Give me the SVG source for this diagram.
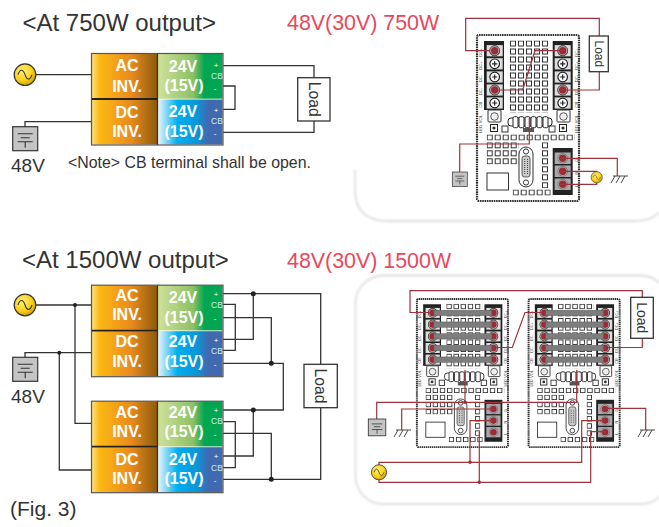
<svg xmlns="http://www.w3.org/2000/svg" width="659" height="527" viewBox="0 0 659 527">
<style>
text{font-family:"Liberation Sans",Arial,sans-serif;fill:#333}
.h{font-size:24px}.r{font-size:21.4px;fill:#e8485c}.v{font-size:19px}
.b{font-size:16px;font-weight:bold;fill:#fff;text-anchor:middle}
.p{font-size:8px;fill:#fff;text-anchor:middle}.c{font-size:8.5px;fill:#cdeee6;text-anchor:middle}
.w{fill:none;stroke:#333;stroke-width:1.3}
.e{fill:none;stroke:#9e333c;stroke-width:1.2}
.d{fill:#222}.rd{fill:#9e2a35}.box{fill:#fff;stroke:#333;stroke-width:1.3}
.t{font-size:4.2px;fill:#333;text-anchor:middle}
.sh{fill:none;stroke:#dedede;stroke-width:1.8;filter:url(#bl)}
</style>
<defs>
<filter id="bl"><feGaussianBlur stdDeviation="0.8"/></filter>
<linearGradient id="og"><stop offset="0" stop-color="#ffe07a"/><stop offset=".12" stop-color="#fdb813"/><stop offset=".6" stop-color="#e98a1e"/><stop offset="1" stop-color="#8a5a0c"/></linearGradient>
<linearGradient id="gr"><stop offset="0" stop-color="#cfe29c"/><stop offset=".55" stop-color="#8cc063"/><stop offset=".72" stop-color="#00a651"/><stop offset="1" stop-color="#00a651"/></linearGradient>
<linearGradient id="bu"><stop offset="0" stop-color="#e8f6fc"/><stop offset=".3" stop-color="#00aeef"/><stop offset=".6" stop-color="#0a96d8"/><stop offset=".78" stop-color="#4169b0"/><stop offset="1" stop-color="#4169b0"/></linearGradient>
<radialGradient id="yl" cx=".4" cy=".35" r=".7"><stop offset="0" stop-color="#fff176"/><stop offset=".6" stop-color="#fcd116"/><stop offset="1" stop-color="#c79a00"/></radialGradient>
<pattern id="gd" width="8" height="8" patternUnits="userSpaceOnUse"><rect x=".5" y=".5" width="5" height="5" fill="#fff" stroke="#333" stroke-width="1"/></pattern>
<g id="mod">
<rect x="0" y="0" width="132" height="46" fill="none"/>
<rect x=".7" y=".7" width="66" height="45" fill="url(#og)"/>
<rect x=".7" y="46.5" width="66" height="45" fill="url(#og)"/>
<rect x="67" y=".7" width="64.5" height="45" fill="url(#gr)"/>
<rect x="67" y="46.5" width="64.5" height="45" fill="url(#bu)"/>
<path d="M0 46h67" stroke="#222" stroke-width="1.8"/>
<path d="M66.5 0v92" stroke="#3a2a10" stroke-width="1.2"/>
<rect x=".5" y=".5" width="131.5" height="91.5" fill="none" stroke="#555" stroke-width="1.2"/>
</g>
<g id="ac"><circle r="10.8" fill="url(#yl)" stroke="#333" stroke-width="1.2"/><path d="M-7 0c2-6 5-6 7 0s5 6 7 0" fill="none" stroke="#333" stroke-width="1.1"/></g>
<g id="bat"><rect width="25" height="24" fill="#c4c4c4" stroke="#333" stroke-width="1.2"/><path d="M5 7h15M8 11h9M5 15h15M12.500 15v6" fill="none" stroke="#333" stroke-width="1.1"/></g>
<g id="gnd"><path d="M3 0h15M5 0l-4 7M10 0l-4 7M15 0l-4 7" fill="none" stroke="#333" stroke-width=".9"/></g>
<g id="scr"><rect x="-8" y="-5.6" width="16" height="11.2" fill="#ddd"/><circle r="4.8" fill="#fff" stroke="#222" stroke-width="1.2"/><path d="M-2.6 0h5.2M0-2.6v5.2" stroke="#222" stroke-width="1.2"/></g>
<g id="red"><circle r="4.8" fill="#bbb" stroke="#555" stroke-width=".6"/><circle r="3.7" class="rd"/></g>
<g id="board">
<rect x="1" y="1" width="102" height="166" rx="2" fill="#fff" stroke="#333" stroke-width="2.2" stroke-dasharray="1.6 .7"/>
<g transform="translate(34 6.500)"><rect width="40" height="72" fill="url(#gd)"/></g>
<rect x="8" y="7" width="20" height="69" class="d"/><rect x="76.7" y="7" width="20" height="69" class="d"/>
<use href="#scr" x="18.7" y="16.7"/><use href="#scr" x="18.7" y="29.8"/><use href="#scr" x="18.7" y="43"/><use href="#scr" x="18.7" y="56"/><use href="#scr" x="18.7" y="69"/>
<use href="#scr" x="86.7" y="16.7"/><use href="#scr" x="86.7" y="29.8"/><use href="#scr" x="86.7" y="43"/><use href="#scr" x="86.7" y="56"/><use href="#scr" x="86.7" y="69"/>
<rect x="12" y="76" width="13" height="12" rx="1" fill="#fff" stroke="#333"/><circle cx="18.5" cy="82.5" r="3.8" fill="#eee" stroke="#555"/>
<rect x="81" y="76" width="13" height="12" rx="1" fill="#fff" stroke="#333"/><circle cx="87.5" cy="82.5" r="3.8" fill="#eee" stroke="#555"/>
<rect x="14.5" y="90.5" width="7" height="7" fill="#fff" stroke="#222"/><circle cx="18" cy="94" r="1.6" fill="#333"/>
<rect x="83.5" y="90.5" width="7" height="7" fill="#fff" stroke="#222"/><circle cx="87" cy="94" r="1.6" fill="#333"/>
<rect x="26" y="92" width="6" height="6" fill="#fff" stroke="#333"/><rect x="73" y="92" width="6" height="6" fill="#fff" stroke="#333"/>
<rect x="32" y="84" width="44" height="8" rx="3" fill="#fff" stroke="#222"/>
<g fill="#fff" stroke="#222"><rect x="37" y="82.7" width="5" height="11" rx="1.5"/><rect x="43" y="82.7" width="5" height="11" rx="1.5"/><rect x="49" y="82.7" width="5" height="11" rx="1.5"/><rect x="55" y="82.7" width="5" height="11" rx="1.5"/><rect x="61" y="82.7" width="5" height="11" rx="1.5"/><rect x="67" y="82.7" width="5" height="11" rx="1.5"/></g>
<rect x="47" y="94" width="11" height="4" fill="#555"/>
<g transform="translate(10.700 100.500)"><rect width="88" height="6" fill="url(#gd)"/></g>
<g transform="translate(10.700 108.300)"><rect width="32" height="22" fill="url(#gd)"/></g>
<g transform="translate(66 108.300)"><rect width="6" height="46" fill="url(#gd)"/></g>
<g transform="translate(36.700 155.500)"><rect width="38" height="6" fill="url(#gd)"/></g>
<rect x="43" y="113" width="14" height="40" rx="7" fill="#fff" stroke="#333"/>
<rect x="46" y="122" width="8" height="21" rx="2.5" fill="#ccc" stroke="#333" stroke-width=".8"/>
<circle cx="50" cy="117.5" r="2.6" fill="#fff" stroke="#333"/><circle cx="50" cy="148.5" r="2.6" fill="#fff" stroke="#333"/>
<path d="M48.700 125v15M51.500 125v15" stroke="#444" stroke-width="1" stroke-dasharray="1 1"/>
<rect x="11" y="139" width="21.5" height="17" fill="#fff" stroke="#333"/>
<rect x="76.7" y="114" width="20" height="47" class="d"/>
<rect x="78.7" y="118.5" width="16" height="11.5" fill="#aaa"/><rect x="78.7" y="131.5" width="16" height="11.5" fill="#aaa"/><rect x="78.7" y="144.5" width="16" height="11.5" fill="#aaa"/>
<use href="#red" x="86.7" y="124.3"/><use href="#red" x="86.7" y="137.3"/><use href="#red" x="86.7" y="150.3"/>
<g class="t">
<text transform="translate(6 18.500) rotate(-90)">DC+</text><text transform="translate(6 31.500) rotate(-90)">DC+</text><text transform="translate(6 44.500) rotate(-90)">DC-</text><text transform="translate(6 57.500) rotate(-90)">DC-</text><text transform="translate(6 70.500) rotate(-90)">CB</text><text transform="translate(6 85) rotate(-90)">VOL</text><text transform="translate(6 95) rotate(-90)">LED</text>
<text transform="translate(101.500 18.500) rotate(-90)">DC+</text><text transform="translate(101.500 31.500) rotate(-90)">DC+</text><text transform="translate(101.500 44.500) rotate(-90)">DC-</text><text transform="translate(101.500 57.500) rotate(-90)">DC-</text><text transform="translate(101.500 70.500) rotate(-90)">CB</text><text transform="translate(101.500 85) rotate(-90)">VOL</text><text transform="translate(101.500 95) rotate(-90)">LED</text>
<text transform="translate(101.500 126) rotate(-90)">G</text><text transform="translate(101.500 139) rotate(-90)">N</text><text transform="translate(101.500 152) rotate(-90)">L</text>
</g>
</g>
<g id="bars">
<use href="#red" x="18.7" y="16.7"/><use href="#red" x="18.7" y="29.8"/><use href="#red" x="18.7" y="43"/><use href="#red" x="18.7" y="56"/><use href="#red" x="18.7" y="69"/>
<use href="#red" x="86.7" y="16.7"/><use href="#red" x="86.7" y="29.8"/><use href="#red" x="86.7" y="43"/><use href="#red" x="86.7" y="56"/><use href="#red" x="86.7" y="69"/>
<g fill="#7d7d7d" stroke="#555" stroke-width=".5"><rect x="20" y="13.7" width="65" height="6"/><rect x="20" y="26.8" width="65" height="6"/><rect x="20" y="40" width="65" height="6"/><rect x="20" y="53" width="65" height="6"/><rect x="20" y="66" width="65" height="6"/></g>
</g>
</defs>

<path class="sh" d="M355 170V190Q355 221 388 221H635Q652 221 659 212"/>
<rect class="sh" x="355.500" y="275.500" width="313" height="228.500" rx="28"/>

<text class="h" x="22.500" y="31">&lt;At 750W output&gt;</text>
<text class="r" x="287" y="30">48V(30V) 750W</text>
<text class="h" x="22" y="268">&lt;At 1500W output&gt;</text>
<text class="r" x="287" y="268">48V(30V) 1500W</text>
<text x="68" y="168" font-size="15.900">&lt;Note&gt; CB terminal shall be open.</text>
<text x="10" y="516" font-size="21">(Fig. 3)</text>

<g id="board-750" transform="translate(476 34)"><use href="#board"/>
<use href="#red" x="18.7" y="16.7"/><use href="#red" x="18.7" y="56"/><use href="#red" x="86.7" y="16.7"/><use href="#red" x="86.7" y="56"/></g>
<g id="board-1500-a" transform="translate(416 298) scale(.893)"><use href="#board"/><use href="#bars"/></g>
<g id="board-1500-b" transform="translate(527.700 298) scale(.893)"><use href="#board"/><use href="#bars"/></g>

<g id="connectors">
<path class="w" d="M36 74.700H91M25 126.700V121.700H91M223 65.700H314V77.700M314 121V132.300H223M223 86H235V109.300H223"/>
<path class="w" d="M36 305H91M75 305V423.300H91M25 357.300V352.700H91M59.300 352.700V470H91"/>
<path class="w" d="M223 293.700H320.700V364.300M320.700 407.700V479.300H223M253.300 293.700V339.300H223M223 304.300H235.300V350.300H223M223 317.700H271.300V363.300M223 363.300H283.300V410H223"/>
<path class="w" d="M253.300 410V456H223M223 421.700H235.300V467.700H223M223 433.300H271.300V479.300"/>
<g class="d"><circle cx="75" cy="305" r="2"/><circle cx="59.300" cy="352.700" r="2"/><circle cx="253.300" cy="293.700" r="2.500"/><circle cx="271.300" cy="363.300" r="2.500"/><circle cx="253.300" cy="410" r="2.500"/><circle cx="271.300" cy="479.300" r="2.500"/></g>
<path class="e" d="M490 50.700H465.700V18.300H599.300V36M599.300 71.700V90H560M495 90H522.700L535 50.700H560"/>
<path class="e" d="M529.300 118V144H459.700V172M560 158.300H617.300V176M560 171.300H596.700V172M560 184.300H596.700V183"/>
<path class="e" d="M430 312.500H410V290.700H642.300V297.300M642.300 338.300V347.500H608M495 347.500H512.300L525 312.500H541"/>
<path class="e" d="M465 370V402.300H376.700V419M576.700 370V402.300H465M493 409H401.700V430M605 408.300H645.700V430"/>
<path class="e" d="M493 420.700H470V462.300M479.300 431.700V482.300M604 420.700H581.700V462.300H379V465M604 431.700H590.700V482.300H379V480"/>
<g class="rd"><circle cx="465" cy="402.300" r="1.700"/><circle cx="470" cy="462.300" r="1.700"/><circle cx="479.300" cy="482.300" r="1.700"/></g>
</g>

<g id="src-750"><use href="#ac" x="25" y="74.700"/></g>
<g id="bat-750"><use href="#bat" x="12.700" y="126.700"/><text class="v" x="11" y="172">48V</text></g>
<g id="src-1500"><use href="#ac" x="25" y="305"/></g>
<g id="bat-1500"><use href="#bat" x="12.700" y="357.300"/><text class="v" x="11" y="403">48V</text></g>

<g id="module-750" transform="translate(91 53)"><use href="#mod"/></g>
<g id="module-750-text">
<text class="b" x="127" y="71">AC</text><text class="b" x="127" y="91.700">INV.</text><text class="b" x="127" y="118.300">DC</text><text class="b" x="127" y="137.300">INV.</text>
<text class="b" x="183" y="71.700">24V</text><text class="b" x="184" y="90.700">(15V)</text><text class="b" x="183" y="116.700">24V</text><text class="b" x="184" y="137.300">(15V)</text>
<text class="p" x="216" y="67.500">+</text><text class="c" x="217" y="79">CB</text><text class="p" x="215" y="91">-</text>
<text class="p" x="216" y="112.500">+</text><text class="c" x="217" y="124">CB</text><text class="p" x="215" y="136">-</text>
</g>
<g id="module-1500-a" transform="translate(91 284.700)"><use href="#mod"/></g>
<g id="module-1500-a-text">
<text class="b" x="127" y="301">AC</text><text class="b" x="127" y="320">INV.</text><text class="b" x="127" y="347.300">DC</text><text class="b" x="127" y="366.700">INV.</text>
<text class="b" x="183" y="303.300">24V</text><text class="b" x="184" y="323.300">(15V)</text><text class="b" x="183" y="347.300">24V</text><text class="b" x="184" y="366.700">(15V)</text>
<text class="p" x="216" y="296.500">+</text><text class="c" x="217" y="308">CB</text><text class="p" x="215" y="320.500">-</text>
<text class="p" x="216" y="343">+</text><text class="c" x="217" y="354.300">CB</text><text class="p" x="215" y="367">-</text>
</g>
<g id="module-1500-b" transform="translate(91 400.700)"><use href="#mod"/></g>
<g id="module-1500-b-text">
<text class="b" x="127" y="418.300">AC</text><text class="b" x="127" y="437.300">INV.</text><text class="b" x="127" y="465">DC</text><text class="b" x="127" y="484">INV.</text>
<text class="b" x="183" y="418.300">24V</text><text class="b" x="184" y="437.300">(15V)</text><text class="b" x="183" y="465">24V</text><text class="b" x="184" y="484">(15V)</text>
<text class="p" x="216" y="413">+</text><text class="c" x="217" y="424.300">CB</text><text class="p" x="215" y="437">-</text>
<text class="p" x="216" y="459">+</text><text class="c" x="217" y="470.700">CB</text><text class="p" x="215" y="483">-</text>
</g>

<g id="load-750-a"><rect class="box" x="297.700" y="77.700" width="32.300" height="43.300"/><text font-size="15.700" text-anchor="middle" transform="translate(308.500 99.300) rotate(90)">Load</text></g>
<g id="load-1500-a"><rect class="box" x="304" y="364.300" width="33.300" height="43.400"/><text font-size="15.700" text-anchor="middle" transform="translate(315 386) rotate(90)">Load</text></g>
<g id="load-750-b"><rect class="box" x="589.300" y="36" width="19" height="35.700"/><text font-size="12" text-anchor="middle" transform="translate(594.500 53.800) rotate(90)">Load</text></g>
<g id="load-1500-b"><rect class="box" x="630.700" y="297.300" width="22.600" height="41"/><text font-size="14" text-anchor="middle" transform="translate(637 317.800) rotate(90)">Load</text></g>

<g id="icons-750"><use href="#bat" transform="translate(452.300 172) scale(.6)"/><use href="#ac" transform="translate(596.700 177.300) scale(.52)"/><use href="#gnd" x="610" y="176"/></g>
<g id="icons-1500"><use href="#bat" transform="translate(368.300 419) scale(.7)"/><use href="#ac" transform="translate(379 472.300) scale(.7)"/><use href="#gnd" x="393" y="430"/><use href="#gnd" x="637" y="430"/></g>
</svg>
